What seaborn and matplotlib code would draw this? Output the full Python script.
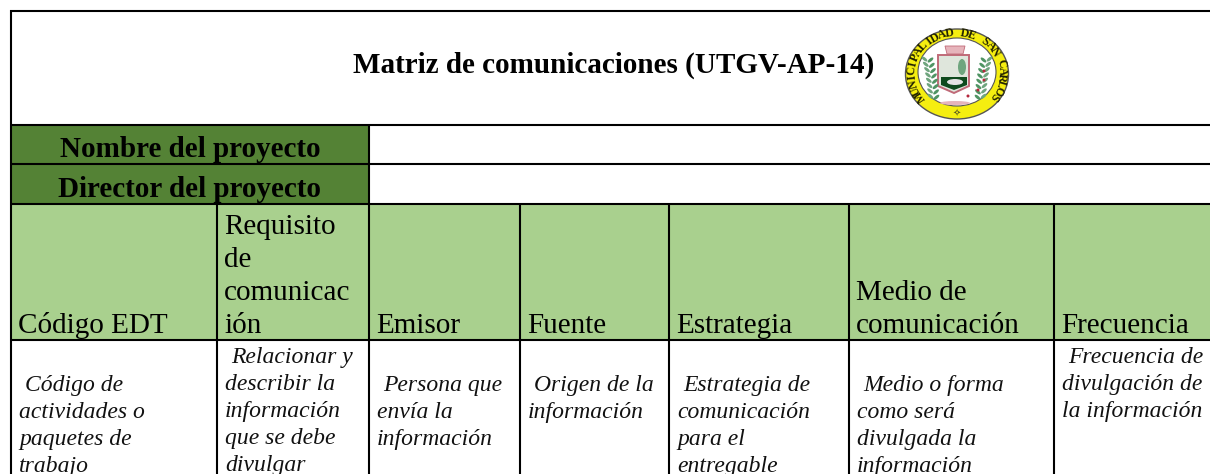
import matplotlib
matplotlib.use("Agg")
import matplotlib.pyplot as plt
import numpy as np
import seaborn as sns
from matplotlib.colors import ListedColormap
from matplotlib.patches import Ellipse, Polygon

TITLE = "Matriz de comunicaciones (UTGV-AP-14)"
SEAL_TEXT = "MUNICIPALIDAD DE SAN CARLOS"
PROJECT_LABELS = ["Nombre del proyecto", "Director del proyecto"]
HEADERS = [
    ["Código EDT"],
    ["Requisito", "de", "comunicac", "ión"],
    ["Emisor"],
    ["Fuente"],
    ["Estrategia"],
    ["Medio de", "comunicación"],
    ["Frecuencia"],
]
DESCRIPTIONS = [
    [" Código de", "actividades o", "paquetes de", "trabajo"],
    [" Relacionar y", "describir la", "información", "que se debe", "divulgar"],
    [" Persona que", "envía la", "información"],
    [" Origen de la", "información"],
    [" Estrategia de", "comunicación", "para el", "entregable"],
    [" Medio o forma", "como será", "divulgada la", "información"],
    [" Frecuencia de", "divulgación de", "la información"],
]
DESC_TOP = [391, 363, 391, 391, 391, 391, 363]

COL_EDGES = [11, 217, 369, 520, 669, 849, 1054, 1210]
ROW_EDGES = [11, 125, 164, 204, 340, 474]
WHITE, DARK, LIGHT = 0, 1, 2
COLORS = ["#ffffff", "#548235", "#a9d08e"]

W, H = 1210, 474

sns.set_theme(style="white")
plt.rcParams["font.family"] = ["Liberation Serif", "DejaVu Serif"]

# matriz de colores, una celda por pixel
grid = np.zeros((H, W), dtype=int)
grid[ROW_EDGES[1]:ROW_EDGES[3], COL_EDGES[0]:COL_EDGES[2]] = DARK
grid[ROW_EDGES[3]:ROW_EDGES[4], COL_EDGES[0]:] = LIGHT

fig = plt.figure(figsize=(W / 100, H / 100), dpi=100)
ax = fig.add_axes([0, 0, 1, 1])
sns.heatmap(grid, ax=ax, cmap=ListedColormap(COLORS), vmin=0, vmax=2,
            cbar=False, xticklabels=False, yticklabels=False)
ax.set_xlim(0, W)
ax.set_ylim(H, 0)

# titulo
ax.text(614, 73, TITLE, ha="center", va="baseline", fontsize=21, fontweight="bold", color="black")

for y, label in zip([157, 197], PROJECT_LABELS):
    ax.text(190, y, label, ha="center", va="baseline", fontsize=21, fontweight="bold", color="black")

# encabezados, alineados abajo
for x, lines in zip(COL_EDGES, HEADERS):
    for i, line in enumerate(reversed(lines)):
        ax.text(x + 7, 333 - i * 33, line, ha="left", va="baseline", fontsize=21, color="black")

# descripciones en cursiva
for x, top, lines in zip(COL_EDGES, DESC_TOP, DESCRIPTIONS):
    for i, line in enumerate(lines):
        offset = 6 if line.startswith(" ") else 0
        ax.text(x + 8 + offset, top + i * 27, line.strip(), ha="left", va="baseline",
                fontsize=17, fontstyle="italic", color="#111111", clip_on=True)

# bordes
lw = 1.5
ax.hlines([10.5, 125, 164, 204, 340], 10, W, color="black", lw=lw)
ax.vlines(10.5, 10, H, color="black", lw=lw)
ax.vlines(369, 125, 204, color="black", lw=lw)
ax.vlines(COL_EDGES[1:-1], 204, H, color="black", lw=lw)

# escudo
cx, cy = 957, 74
ax.add_patch(Ellipse((cx, cy), 103, 90, fc="#f5ee10", ec="#555555", lw=1))
ax.add_patch(Ellipse((cx, cy - 2), 78, 68, fc="white", ec="#555555", lw=0.8))
n = len(SEAL_TEXT)
for i, ch in enumerate(SEAL_TEXT):
    ang = np.radians(-125 + 250 * i / (n - 1))
    ax.text(cx + 45 * np.sin(ang), cy - 1 - 40 * np.cos(ang), ch, ha="center", va="center",
            fontsize=8.5, fontweight="bold", rotation=-np.degrees(ang), color="#222200")
ax.text(cx, cy + 40, "✧", ha="center", va="center", fontsize=7, color="#555522", family="DejaVu Sans")

shield = [(938, 55), (969, 55), (969, 86), (954, 93), (938, 86)]
ax.add_patch(Polygon(shield, fc="#dfe6dc", ec="#c06a78", lw=1.4))
ax.add_patch(Polygon([(941, 77), (967, 77), (967, 85), (954, 90), (941, 85)], fc="#0f4a1e", ec="none"))
ax.add_patch(Polygon([(945, 46), (965, 46), (963, 54), (947, 54)], fc="#e6b4bb", ec="#c06a78", lw=0.6))
ax.add_patch(Ellipse((955, 82), 16, 6, fc="#e4e4e4", ec="none"))
ax.add_patch(Ellipse((962, 67), 8, 16, fc="#6fa57e", ec="none"))
for sign in [-1, 1]:
    for t in np.arange(0, 1.01, 0.14):
        x = cx + sign * (31 - 6 * t ** 2 + 10 * (t - 0.5) ** 2 - 4)
        y = 60 + 38 * t
        ax.add_patch(Ellipse((x - sign * 3, y), 7, 3, angle=sign * 40, fc="#4f9463", ec="none"))
        ax.add_patch(Ellipse((x + sign * 3, y - 1), 7, 3, angle=-sign * 40, fc="#6fa57e", ec="none"))
for x, y in [(984, 71), (984, 80), (978, 90), (968, 96)]:
    ax.add_patch(Ellipse((x, y), 3, 3, fc="#b5273c", ec="none"))
ax.add_patch(Ellipse((cx - 2, 103), 30, 4, fc="#e6b4bb", ec="none"))

fig.savefig("out.png", dpi=100)
plt.close(fig)
